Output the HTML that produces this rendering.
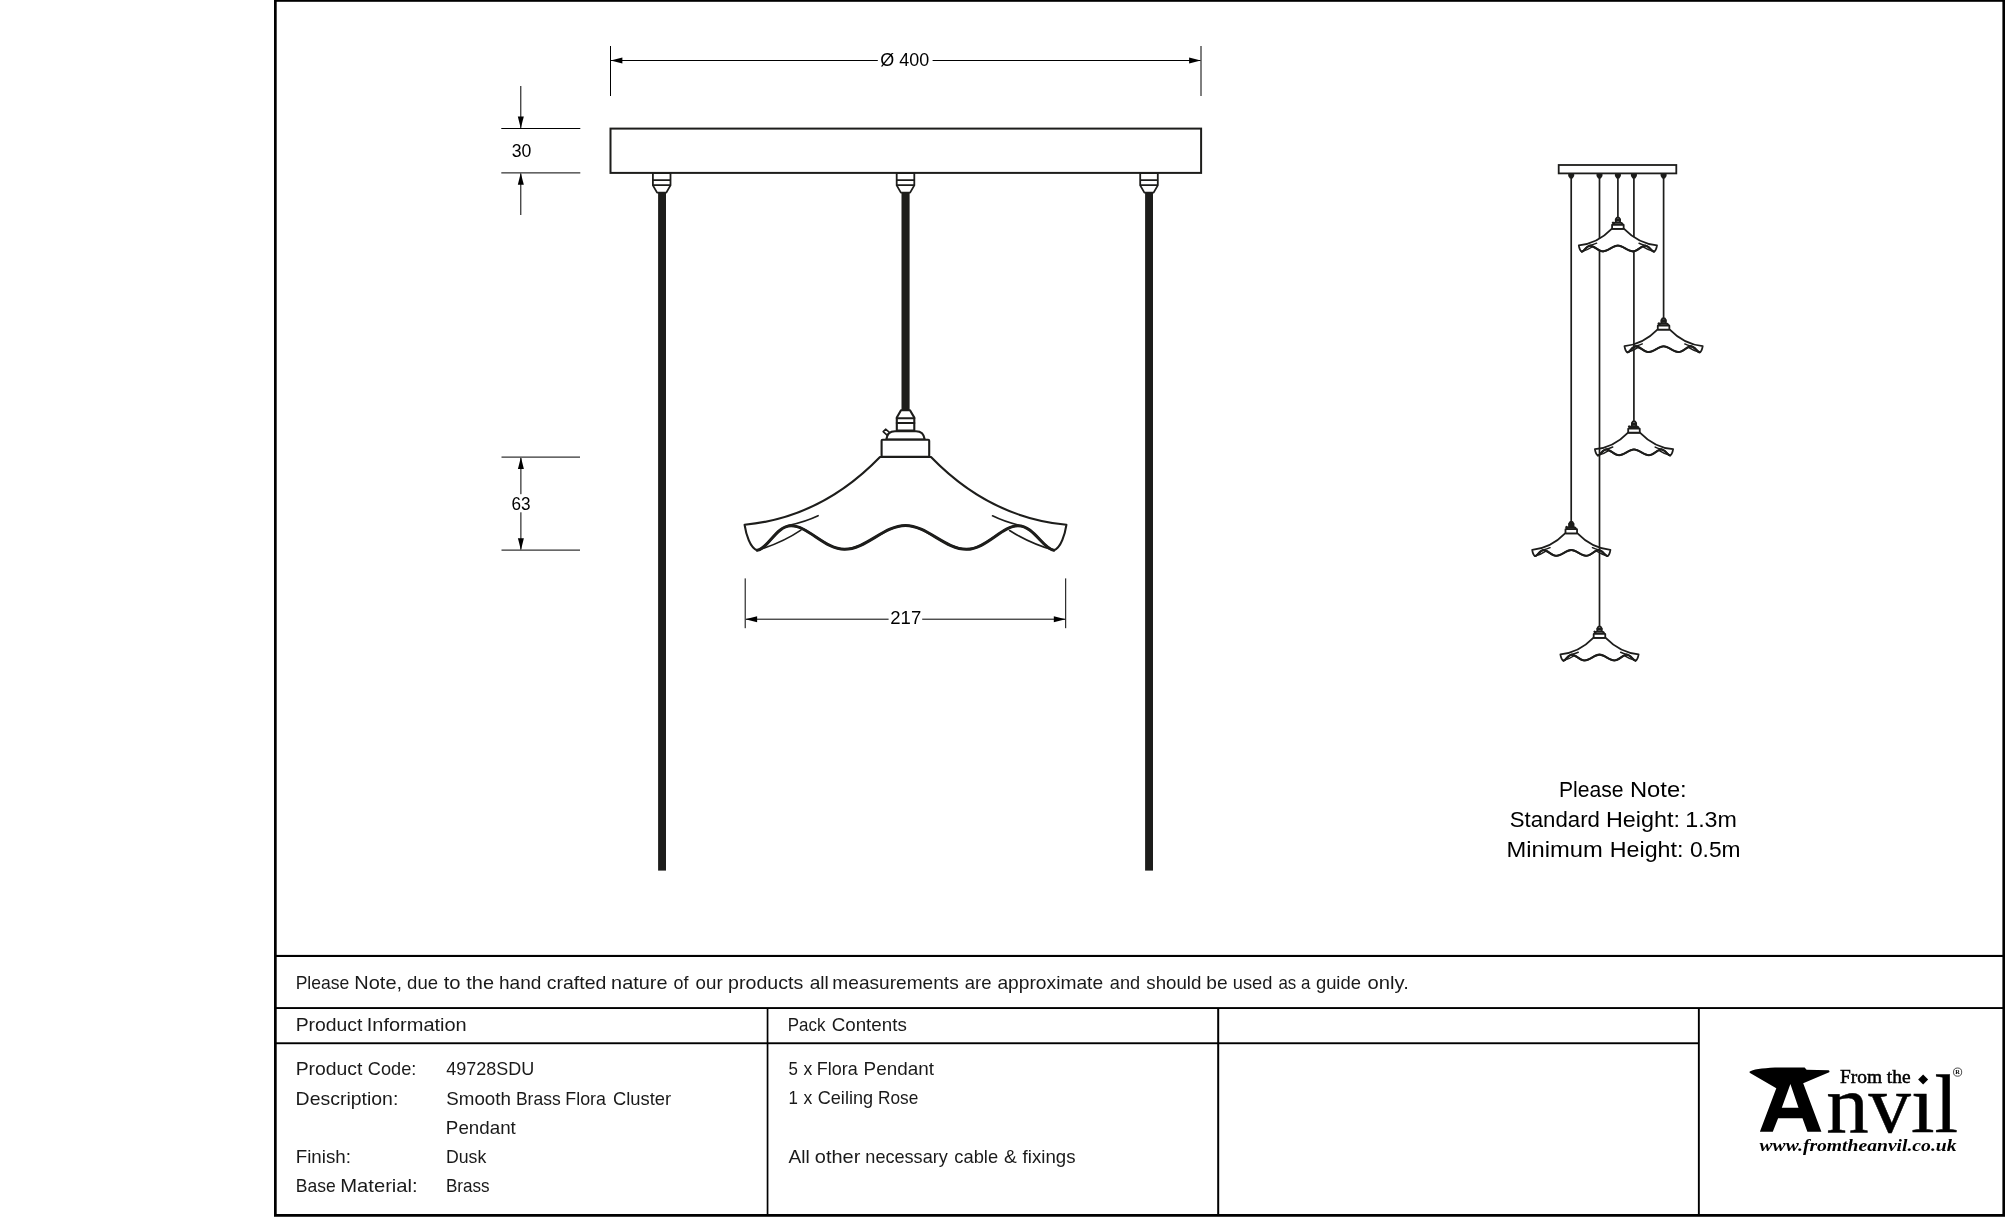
<!DOCTYPE html>
<html>
<head>
<meta charset="utf-8">
<title>Smooth Brass Flora Cluster Pendant</title>
<style>
html,body{margin:0;padding:0;background:#fff;}
body{width:2005px;height:1217px;overflow:hidden;font-family:"Liberation Sans",sans-serif;}
svg{display:block;position:absolute;left:0;top:0;will-change:transform;}
text{font-family:"Liberation Sans",sans-serif;fill:#1a1a1a;}
.t{font-size:18.4px;}
.n{font-size:21.6px;fill:#000;}
.d{font-size:17.6px;fill:#000;}
.serif{font-family:"Liberation Serif",serif;fill:#000;}
#pendant{stroke-width:var(--sw);}
#pendant .wave{stroke-width:var(--ww);}
#pendant .thin{stroke-width:var(--tw);}
.big{--sw:2.1;--ww:3;--tw:1.6;}
.small{--sw:7.4;--ww:8.4;--tw:6;}
</style>
</head>
<body>
<svg width="2005" height="1217" viewBox="0 0 2005 1217">
<defs>
  <!-- pendant drawn in large-pendant absolute coords; cable end at (905.5,410) -->
  <g id="pendant" fill="none" stroke="#1d1d1b" stroke-linejoin="round" stroke-linecap="round">
    <path fill="#fff" d="M880,457 C850,488 806,519 744.6,524.8 C746,534 750,548 757.2,550.3 C768,549 776,525.8 791.2,525.8 C808,525.8 825,549.3 844.5,549.3 C866,549.3 884,525.5 905.5,525.5 C927,525.5 945,549.3 966.5,549.3 C986,549.3 1002,525.8 1018,525.8 C1034,525.8 1043,549 1053.8,550.3 C1061,548 1065,534 1066.4,524.8 C1005,519 961,488 931,457 Z"/>
    <path class="wave" d="M757.2,550.3 C768,549 776,525.8 791.2,525.8 C808,525.8 825,549.3 844.5,549.3 C866,549.3 884,525.5 905.5,525.5 C927,525.5 945,549.3 966.5,549.3 C986,549.3 1002,525.8 1018,525.8 C1034,525.8 1043,549 1053.8,550.3"/>
    <path class="thin" d="M818.1,515.7 Q806,521.5 789,525.3 M992.5,515.8 Q1004,521.5 1019,525.2"/>
    <path class="thin" d="M800.9,530.2 Q782,543 757.2,550.3 M1009.6,530.5 Q1029,543 1053.8,550.3"/>
    <path fill="#fff" d="M901,410.2 L910,410.2 L914.3,417.6 L914.3,430.6 L896.8,430.6 L896.8,417.6 Z"/>
    <path d="M896.8,418.2 H914.3 M896.8,423 H914.3"/>
    <path class="thin" fill="#fff" d="M883.2,431.6 L885.6,429.2 L889.4,432.4 L887,435.2 Z"/>
    <path fill="#fff" d="M886.2,439.6 C887,434 890,431.3 895,431.3 L916,431.3 C921,431.3 924,434 924.8,439.6 Z"/>
    <rect fill="#fff" x="881.6" y="439.8" width="47.6" height="17" rx="1"/>
  </g>
  <!-- ceiling fitting centred at x=0, top y=0 -->
  <g id="cfit" fill="#fff" stroke="#1d1d1b" stroke-width="1.8" stroke-linejoin="round">
    <path d="M-8.8,0 L-8.8,12.4 L-4.6,19.6 L4.6,19.6 L8.8,12.4 L8.8,0 Z"/>
    <path d="M-8.8,7.2 H8.8 M-8.8,12.2 H8.8"/>
  </g>
  <path id="arr" d="M0,0 L11.7,-3 L11.7,3 Z" fill="#000"/>
</defs>
<!-- FRAME -->
<g id="frame" fill="#000">
  <rect x="274" y="0" width="1731" height="1.8"/>
  <rect x="274" y="0" width="2.7" height="1217"/>
  <rect x="2002.4" y="0" width="2.6" height="1217"/>
  <rect x="274" y="1214" width="1731" height="3"/>
  <rect x="274" y="1216" width="1731" height="1" fill="#3a3a3a"/>
  <rect x="274" y="954.9" width="1731" height="2.1"/>
  <rect x="274" y="1007.1" width="1731" height="1.9"/>
  <rect x="274" y="1042.3" width="1425" height="1.9"/>
  <rect x="766.7" y="1008" width="1.7" height="207"/>
  <rect x="1217.2" y="1008" width="2" height="207"/>
  <rect x="1697.9" y="1008" width="1.9" height="207"/>
</g>
<!-- MAIN DRAWING -->
<g id="main">
  <!-- cables -->
  <g fill="#1d1d1b">
    <rect x="658.1" y="192" width="7.9" height="678.6"/>
    <rect x="1145.1" y="192" width="7.9" height="678.6"/>
    <rect x="901.5" y="192" width="8.1" height="219"/>
  </g>
  <!-- ceiling rose -->
  <rect x="610.5" y="128.6" width="590.6" height="44.3" fill="#fff" stroke="#1d1d1b" stroke-width="2"/>
  <use href="#cfit" x="661.7" y="173"/>
  <use href="#cfit" x="905.5" y="173"/>
  <use href="#cfit" x="1149" y="173"/>
  <!-- pendant -->
  <g class="big"><use href="#pendant"/></g>
  <!-- dimensions -->
  <g stroke="#000" stroke-width="1" fill="none">
    <path d="M610.5,46 V96 M1201,46 V96"/>
    <path d="M611,60.5 H877.8 M932.6,60.5 H1200.5"/>
    <path d="M501.3,128.5 H580.3 M501.3,172.9 H580.3"/>
    <path d="M520.8,86 V128 M520.8,173.5 V215"/>
    <path d="M501.5,457.1 H580 M501.5,550.1 H580"/>
    <path d="M520.9,458 V494.2 M520.9,512.3 V549.5"/>
    <path d="M745.2,578.4 V628.2 M1065.7,578.4 V628.2"/>
    <path d="M746,619.2 H888.6 M922.2,619.2 H1065"/>
  </g>
  <use href="#arr" transform="translate(610.7,60.5)"/>
  <use href="#arr" transform="translate(1200.8,60.5) rotate(180)"/>
  <use href="#arr" transform="translate(520.8,128.3) rotate(-90)"/>
  <use href="#arr" transform="translate(520.8,173.1) rotate(90)"/>
  <use href="#arr" transform="translate(520.9,457.3) rotate(90)"/>
  <use href="#arr" transform="translate(520.9,549.9) rotate(-90)"/>
  <use href="#arr" transform="translate(745.4,619.2)"/>
  <use href="#arr" transform="translate(1065.5,619.2) rotate(180)"/>
</g>
<!-- CLUSTER DRAWING -->
<g id="cluster">
  <g fill="#1d1d1b">
    <rect x="1662.75" y="176" width="1.7" height="143"/>
    <rect x="1570.35" y="176" width="1.7" height="347"/>
  </g>
  <g class="small">
    <use href="#pendant" transform="translate(1443.56,218.62) scale(0.243)"/>
    <use href="#pendant" transform="translate(1413.96,321.7) scale(0.243)"/>
    <use href="#pendant" transform="translate(1351.26,422.32) scale(0.243)"/>
  </g>
  <g fill="#1d1d1b">
    <rect x="1598.65" y="176" width="1.7" height="452"/>
    <rect x="1633.05" y="176" width="1.7" height="246"/>
    <rect x="1617.05" y="176" width="1.7" height="42"/>
  </g>
  <g class="small">
    <use href="#pendant" transform="translate(1397.86,117.9) scale(0.243)"/>
    <use href="#pendant" transform="translate(1379.46,526.92) scale(0.243)"/>
  </g>
  <rect x="1558.7" y="165" width="117.6" height="8.4" fill="#fff" stroke="#1d1d1b" stroke-width="1.8"/>
  <g fill="#1d1d1b">
    <path d="M1568.2,174 h6 v2 l-1.6,2.4 h-2.8 l-1.6,-2.4 z"/>
    <path d="M1596.5,174 h6 v2 l-1.6,2.4 h-2.8 l-1.6,-2.4 z"/>
    <path d="M1614.9,174 h6 v2 l-1.6,2.4 h-2.8 l-1.6,-2.4 z"/>
    <path d="M1630.9,174 h6 v2 l-1.6,2.4 h-2.8 l-1.6,-2.4 z"/>
    <path d="M1660.6,174 h6 v2 l-1.6,2.4 h-2.8 l-1.6,-2.4 z"/>
  </g>
</g>
<!-- TEXT -->
<g id="texts">
  <text class="t" x="295.65" y="988.8" textLength="53.67" lengthAdjust="spacingAndGlyphs">Please</text>
  <text class="t" x="354.31" y="988.8" textLength="47.79" lengthAdjust="spacingAndGlyphs">Note,</text>
  <text class="t" x="407.10" y="988.8" textLength="30.93" lengthAdjust="spacingAndGlyphs">due</text>
  <text class="t" x="443.74" y="988.8" textLength="16.87" lengthAdjust="spacingAndGlyphs">to</text>
  <text class="t" x="466.30" y="988.8" textLength="27.75" lengthAdjust="spacingAndGlyphs">the</text>
  <text class="t" x="498.96" y="988.8" textLength="42.37" lengthAdjust="spacingAndGlyphs">hand</text>
  <text class="t" x="546.80" y="988.8" textLength="59.54" lengthAdjust="spacingAndGlyphs">crafted</text>
  <text class="t" x="611.12" y="988.8" textLength="56.33" lengthAdjust="spacingAndGlyphs">nature</text>
  <text class="t" x="673.60" y="988.8" textLength="14.93" lengthAdjust="spacingAndGlyphs">of</text>
  <text class="t" x="695.60" y="988.8" textLength="27.03" lengthAdjust="spacingAndGlyphs">our</text>
  <text class="t" x="728.13" y="988.8" textLength="75.17" lengthAdjust="spacingAndGlyphs">products</text>
  <text class="t" x="809.70" y="988.8" textLength="19.13" lengthAdjust="spacingAndGlyphs">all</text>
  <text class="t" x="832.36" y="988.8" textLength="126.34" lengthAdjust="spacingAndGlyphs">measurements</text>
  <text class="t" x="964.80" y="988.8" textLength="26.73" lengthAdjust="spacingAndGlyphs">are</text>
  <text class="t" x="997.40" y="988.8" textLength="105.74" lengthAdjust="spacingAndGlyphs">approximate</text>
  <text class="t" x="1109.80" y="988.8" textLength="30.33" lengthAdjust="spacingAndGlyphs">and</text>
  <text class="t" x="1146.30" y="988.8" textLength="55.13" lengthAdjust="spacingAndGlyphs">should</text>
  <text class="t" x="1206.36" y="988.8" textLength="21.28" lengthAdjust="spacingAndGlyphs">be</text>
  <text class="t" x="1232.81" y="988.8" textLength="39.62" lengthAdjust="spacingAndGlyphs">used</text>
  <text class="t" x="1278.41" y="988.8" textLength="17.87" lengthAdjust="spacingAndGlyphs">as</text>
  <text class="t" x="1300.94" y="988.8" textLength="9.41" lengthAdjust="spacingAndGlyphs">a</text>
  <text class="t" x="1315.90" y="988.8" textLength="45.03" lengthAdjust="spacingAndGlyphs">guide</text>
  <text class="t" x="1367.55" y="988.8" textLength="41.23" lengthAdjust="spacingAndGlyphs">only.</text>
  <text class="t" x="295.65" y="1031.1" textLength="66.77" lengthAdjust="spacingAndGlyphs">Product</text>
  <text class="t" x="366.71" y="1031.1" textLength="100.04" lengthAdjust="spacingAndGlyphs">Information</text>
  <text class="t" x="787.81" y="1031.1" textLength="37.61" lengthAdjust="spacingAndGlyphs">Pack</text>
  <text class="t" x="831.70" y="1031.1" textLength="75.10" lengthAdjust="spacingAndGlyphs">Contents</text>
  <text class="t" x="295.65" y="1074.8" textLength="66.77" lengthAdjust="spacingAndGlyphs">Product</text>
  <text class="t" x="367.80" y="1074.8" textLength="48.50" lengthAdjust="spacingAndGlyphs">Code:</text>
  <text class="t" x="446.30" y="1074.8" textLength="88.05" lengthAdjust="spacingAndGlyphs">49728SDU</text>
  <text class="t" x="295.64" y="1104.5" textLength="102.73" lengthAdjust="spacingAndGlyphs">Description:</text>
  <text class="t" x="446.30" y="1104.5" textLength="64.63" lengthAdjust="spacingAndGlyphs">Smooth</text>
  <text class="t" x="515.95" y="1104.5" textLength="44.74" lengthAdjust="spacingAndGlyphs">Brass</text>
  <text class="t" x="565.33" y="1104.5" textLength="40.62" lengthAdjust="spacingAndGlyphs">Flora</text>
  <text class="t" x="612.90" y="1104.5" textLength="58.22" lengthAdjust="spacingAndGlyphs">Cluster</text>
  <text class="t" x="445.88" y="1133.8" textLength="69.93" lengthAdjust="spacingAndGlyphs">Pendant</text>
  <text class="t" x="295.68" y="1163.1" textLength="55.25" lengthAdjust="spacingAndGlyphs">Finish:</text>
  <text class="t" x="445.94" y="1163.1" textLength="40.29" lengthAdjust="spacingAndGlyphs">Dusk</text>
  <text class="t" x="295.75" y="1192" textLength="39.87" lengthAdjust="spacingAndGlyphs">Base</text>
  <text class="t" x="340.18" y="1192" textLength="77.57" lengthAdjust="spacingAndGlyphs">Material:</text>
  <text class="t" x="445.97" y="1192" textLength="43.71" lengthAdjust="spacingAndGlyphs">Brass</text>
  <text class="t" x="788.45" y="1074.8" textLength="9.41" lengthAdjust="spacingAndGlyphs">5</text>
  <text class="t" x="803.40" y="1074.8" textLength="8.79" lengthAdjust="spacingAndGlyphs">x</text>
  <text class="t" x="816.72" y="1074.8" textLength="41.02" lengthAdjust="spacingAndGlyphs">Flora</text>
  <text class="t" x="863.57" y="1074.8" textLength="70.34" lengthAdjust="spacingAndGlyphs">Pendant</text>
  <text class="t" x="788.39" y="1104" textLength="9.41" lengthAdjust="spacingAndGlyphs">1</text>
  <text class="t" x="803.40" y="1104" textLength="8.79" lengthAdjust="spacingAndGlyphs">x</text>
  <text class="t" x="817.70" y="1104" textLength="55.42" lengthAdjust="spacingAndGlyphs">Ceiling</text>
  <text class="t" x="878.06" y="1104" textLength="40.25" lengthAdjust="spacingAndGlyphs">Rose</text>
  <text class="t" x="788.60" y="1163" textLength="21.23" lengthAdjust="spacingAndGlyphs">All</text>
  <text class="t" x="814.80" y="1163" textLength="45.53" lengthAdjust="spacingAndGlyphs">other</text>
  <text class="t" x="865.32" y="1163" textLength="82.49" lengthAdjust="spacingAndGlyphs">necessary</text>
  <text class="t" x="954.30" y="1163" textLength="43.83" lengthAdjust="spacingAndGlyphs">cable</text>
  <text class="t" x="1004.00" y="1163" textLength="12.78" lengthAdjust="spacingAndGlyphs">&amp;</text>
  <text class="t" x="1022.60" y="1163" textLength="52.90" lengthAdjust="spacingAndGlyphs">fixings</text>
  <text class="n" x="1558.92" y="796.8" textLength="64.59" lengthAdjust="spacingAndGlyphs">Please</text>
  <text class="n" x="1629.96" y="796.8" textLength="56.77" lengthAdjust="spacingAndGlyphs">Note:</text>
  <text class="n" x="1509.70" y="826.8" textLength="90.24" lengthAdjust="spacingAndGlyphs">Standard</text>
  <text class="n" x="1605.92" y="826.8" textLength="73.96" lengthAdjust="spacingAndGlyphs">Height:</text>
  <text class="n" x="1685.22" y="826.8" textLength="51.74" lengthAdjust="spacingAndGlyphs">1.3m</text>
  <text class="n" x="1506.53" y="857" textLength="96.33" lengthAdjust="spacingAndGlyphs">Minimum</text>
  <text class="n" x="1609.82" y="857" textLength="73.65" lengthAdjust="spacingAndGlyphs">Height:</text>
  <text class="n" x="1689.90" y="857" textLength="50.64" lengthAdjust="spacingAndGlyphs">0.5m</text>
  <text class="d" x="880.30" y="66.2" textLength="48.88" lengthAdjust="spacingAndGlyphs">Ø 400</text>
  <text class="d" x="511.70" y="157.2" textLength="19.68" lengthAdjust="spacingAndGlyphs">30</text>
  <text class="d" x="511.40" y="509.8" textLength="19.09" lengthAdjust="spacingAndGlyphs">63</text>
  <text class="d" x="890.30" y="623.6" textLength="30.93" lengthAdjust="spacingAndGlyphs">217</text>
</g>
<!-- LOGO -->
<g id="logo" fill="#000">
  <!-- anvil A -->
  <path d="M1749.8,1071.6 C1752,1069.6 1762,1068.2 1775,1067.5 L1804.6,1067.5 L1806.6,1069.8 L1828.6,1070.2 Q1830,1070.8 1829.2,1072.2 L1803.2,1083.3 L1821.4,1131.8 L1807.4,1131.8 L1802.5,1118.2 L1778.1,1118.2 L1772.8,1131.8 L1759.9,1131.8 L1776.3,1088.2 L1750.5,1073.2 Q1749,1072.4 1749.8,1071.6 Z M1781.8,1107.7 L1798.5,1107.7 L1790.4,1084 Z" fill-rule="evenodd"/>
  <text class="serif" x="1826.2" y="1131.8" font-size="83.2" textLength="131.8" lengthAdjust="spacingAndGlyphs" stroke="#000" stroke-width="0.5">nv&#305;l</text>
  <text class="serif" x="1840" y="1082.8" font-size="18.6" textLength="70.5" lengthAdjust="spacingAndGlyphs" stroke="#000" stroke-width="0.5">From the</text>
  <path d="M1923.1,1074.6 L1928.1,1079.6 L1923.1,1084.6 L1918.1,1079.6 Z"/>
  <circle cx="1957.6" cy="1072.1" r="4.1" fill="none" stroke="#000" stroke-width="0.7"/>
  <text class="serif" x="1955.3" y="1074.4" font-size="6.4" font-weight="bold">R</text>
  <text class="serif" x="1759.5" y="1151.3" font-size="17.6" font-style="italic" font-weight="bold" textLength="197" lengthAdjust="spacingAndGlyphs">www.fromtheanvil.co.uk</text>
</g>
</svg>
</body>
</html>
